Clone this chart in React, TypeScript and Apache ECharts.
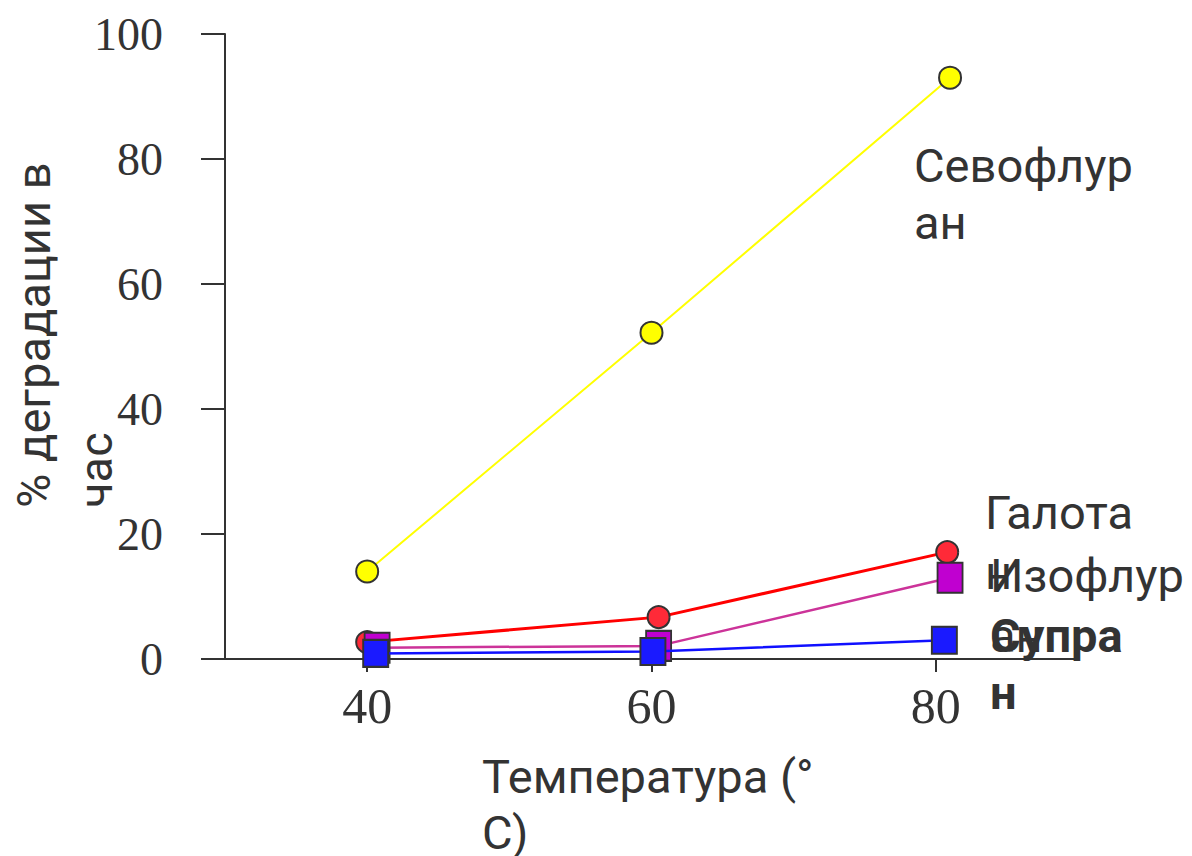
import React, { useEffect, useRef } from "react";
import * as echarts from "echarts";

// Temperatures (°C) of each marker, as placed in the picture
const sevoX = [40, 60, 81];
const sevoY = [14, 52.2, 93];
const haloX = [40, 60.5, 80.8];
const haloY = [2.7, 6.7, 17.1];
const isoX = [40.7, 60.5, 81];
const isoY = [1.8, 2.1, 13];
const desX = [40.6, 60.1, 80.6];
const desY = [0.9, 1.2, 3.0];

const xTicks = [40, 60, 80];

const pairs = (xs: number[], ys: number[]) => xs.map((x, i) => [x, ys[i]]);

const SANS = "Roboto, 'Liberation Sans', Arial, sans-serif";
const SERIF = "'Liberation Serif', 'Times New Roman', serif";
const TXT = "#333333";
const FS = 47;

export default function App() {
  const ref = useRef<HTMLDivElement>(null);
  useEffect(() => {
    if (!ref.current) return;
    const chart = echarts.init(ref.current, null, { renderer: "svg" });
    const label = (text: string, x: number, y: number, bold = false) => ({
      type: "text",
      x,
      y,
      style: {
        text,
        font: `${bold ? "bold " : ""}${FS}px ${SANS}`,
        fill: TXT,
        textVerticalAlign: "middle",
      },
      z: 10,
    });
    chart.setOption({
      animation: false,
      backgroundColor: "#ffffff",
      grid: { left: 225, top: 34, width: 853, height: 625 },
      xAxis: {
        type: "value",
        min: 30,
        max: 90,
        interval: 10,
        axisLine: { show: true, lineStyle: { color: TXT, width: 2 } },
        axisTick: {
          show: true,
          customValues: xTicks,
          length: 13,
          lineStyle: { color: TXT, width: 2 },
        },
        axisLabel: {
          customValues: xTicks,
          margin: 22,
          color: TXT,
          fontFamily: SERIF,
          fontSize: 50,
        },
        splitLine: { show: false },
      },
      yAxis: {
        type: "value",
        min: 0,
        max: 100,
        interval: 20,
        axisLine: { show: true, lineStyle: { color: TXT, width: 2 } },
        axisTick: { show: true, length: 24, lineStyle: { color: TXT, width: 2 } },
        axisLabel: { margin: 62, color: TXT, fontFamily: SERIF, fontSize: 46 },
        splitLine: { show: false },
      },
      series: [
        {
          name: "Галотан",
          type: "line",
          data: pairs(haloX, haloY),
          symbol: "circle",
          symbolSize: 22,
          lineStyle: { color: "#ff0000", width: 3 },
          itemStyle: { color: "#ff2a38", borderColor: "#333", borderWidth: 2 },
          z: 3,
        },
        {
          name: "Изофлуран",
          type: "line",
          data: pairs(isoX, isoY),
          symbol: "rect",
          symbolSize: [25, 30],
          lineStyle: { color: "#cc3399", width: 2.5 },
          itemStyle: { color: "#c000d0", borderColor: "#333", borderWidth: 2 },
          z: 4,
        },
        {
          name: "Десфлуран",
          type: "line",
          data: pairs(desX, desY),
          symbol: "rect",
          symbolSize: [25, 27],
          lineStyle: { color: "#1010ff", width: 2.5 },
          itemStyle: { color: "#1a1aff", borderColor: "#333", borderWidth: 2 },
          z: 5,
        },
        {
          name: "Севофлуран",
          type: "line",
          data: pairs(sevoX, sevoY),
          symbol: "circle",
          symbolSize: 22,
          lineStyle: { color: "#ffff00", width: 2 },
          itemStyle: { color: "#ffff00", borderColor: "#333", borderWidth: 2 },
          z: 6,
        },
      ],
      graphic: [
        label("Севофлур", 914, 165),
        label("ан", 914, 222),
        label("Галота", 985, 512),
        label("н", 985, 572),
        label("Изофлур", 990, 575),
        label("ан", 990, 635),
        label("Супра", 990, 635, true),
        label("н", 990, 692, true),
        label("Температура (°", 482, 776),
        label("С)", 482, 832),
        {
          type: "text",
          x: 33,
          y: 508,
          rotation: Math.PI / 2,
          style: {
            text: "% деградации в",
            font: `${FS}px ${SANS}`,
            fill: TXT,
            textVerticalAlign: "middle",
          },
        },
        {
          type: "text",
          x: 95,
          y: 508,
          rotation: Math.PI / 2,
          style: {
            text: "час",
            font: `${FS}px ${SANS}`,
            fill: TXT,
            textVerticalAlign: "middle",
          },
        },
      ],
    });
    return () => chart.dispose();
  }, []);
  return (
    <div
      ref={ref}
      style={{ position: "absolute", left: 0, top: 0, width: 1192, height: 856 }}
    />
  );
}
